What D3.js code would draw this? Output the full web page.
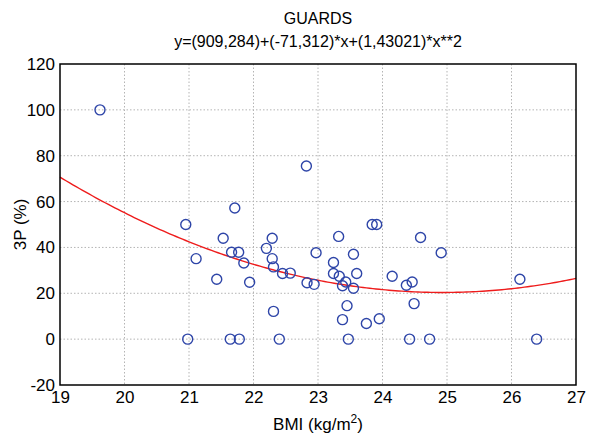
<!DOCTYPE html>
<html>
<head>
<meta charset="utf-8">
<script src="https://cdn.jsdelivr.net/npm/d3@7"></script>
<style>
  body { margin: 0; background: #fff; }
  text { font-family: "Liberation Sans", Arial, sans-serif; fill: #000; }
</style>
</head>
<body>
<svg id="chart"></svg>
<script>
// BMI values of the guards (x)
const bmi = [19.62, 20.95, 21.53, 22.29, 21.71, 21.66, 21.77, 22.20, 21.11, 21.85,
  22.29, 22.31, 22.45, 22.57, 21.43, 21.94, 22.31, 20.98, 21.64, 21.78,
  22.40, 22.82, 23.84, 23.91, 23.32, 22.97, 23.55, 23.24, 23.24, 23.33,
  23.60, 22.83, 22.94, 23.43, 23.38, 23.55, 23.45, 23.38, 23.75, 23.95,
  23.47, 24.15, 24.59, 24.91, 24.46, 24.37, 24.49, 24.42, 24.73, 26.13, 26.39]
// 3-point percentage (y)
const threeP = [100, 50, 44, 44, 57.2, 37.9, 37.9, 39.6, 35.1, 33.2,
  35.1, 31.5, 28.6, 28.8, 26.1, 24.8, 12.1, 0, 0, 0,
  0, 75.5, 50, 50, 44.8, 37.7, 37.0, 33.4, 28.6, 27.4,
  28.6, 24.6, 23.9, 24.9, 23.3, 22.2, 14.6, 8.5, 6.8, 8.9,
  0, 27.4, 44.3, 37.7, 24.9, 23.5, 15.5, 0, 0, 26.1, 0]

// quadratic fit coefficients, as printed in the subtitle
const fitCoef = [909.284, -71.312, 1.43021]

const xTicks = [19, 20, 21, 22, 23, 24, 25, 26, 27]
const yTicks = [-20, 0, 20, 40, 60, 80, 100, 120]

const W = 590, H = 437
const plotL = 60, plotR = 576, plotT = 64, plotB = 385

const svg = d3.select("#chart").attr("width", W).attr("height", H)

const x = d3.scaleLinear().domain([19, 27]).range([plotL, plotR])
const y = d3.scaleLinear().domain([-20, 120]).range([plotB, plotT])

// gridlines (dotted grey)
svg.append("g").selectAll("line")
  .data(xTicks.slice(1, -1))
  .enter().append("line")
  .attr("x1", d => x(d)).attr("x2", d => x(d))
  .attr("y1", plotT).attr("y2", plotB)
  .attr("stroke", "#b4b4b4").attr("stroke-width", 1)
  .attr("stroke-dasharray", "1.5,2")

svg.append("g").selectAll("line")
  .data(yTicks.slice(1, -1))
  .enter().append("line")
  .attr("x1", plotL).attr("x2", plotR)
  .attr("y1", d => y(d)).attr("y2", d => y(d))
  .attr("stroke", "#b4b4b4").attr("stroke-width", 1)
  .attr("stroke-dasharray", "1.5,2")

// axes (labels only, no outer ticks)
const fmt = d => String(d)
const xAxis = svg.append("g")
  .attr("transform", "translate(0," + plotB + ")")
  .call(d3.axisBottom(x).tickValues(xTicks).tickFormat(fmt).tickSize(0).tickPadding(6))
xAxis.select(".domain").remove()
xAxis.selectAll("text").style("font-size", "17px")

const yAxis = svg.append("g")
  .attr("transform", "translate(" + plotL + ",0)")
  .call(d3.axisLeft(y).tickValues(yTicks).tickFormat(fmt).tickSize(0).tickPadding(5))
yAxis.select(".domain").remove()
yAxis.selectAll("text").style("font-size", "17px")

// fitted curve
const fit = v => fitCoef[0] + fitCoef[1] * v + fitCoef[2] * v * v
const line = d3.line().x(d => x(d)).y(d => y(fit(d)))
svg.append("path")
  .datum(d3.range(19, 27.001, 0.05))
  .attr("d", line)
  .attr("fill", "none")
  .attr("stroke", "#ee1c1c")
  .attr("stroke-width", 1.4)

// points
svg.append("g").selectAll("circle")
  .data(bmi.map((b, i) => [b, threeP[i]]))
  .enter().append("circle")
  .attr("cx", d => x(d[0]))
  .attr("cy", d => y(d[1]))
  .attr("r", 5)
  .attr("fill", "none")
  .attr("stroke", "#2e45a8")
  .attr("stroke-width", 1.4)

// frame
svg.append("rect")
  .attr("x", plotL).attr("y", plotT)
  .attr("width", plotR - plotL).attr("height", plotB - plotT)
  .attr("fill", "none").attr("stroke", "#000").attr("stroke-width", 1.5)

// titles
svg.append("text")
  .attr("x", (plotL + plotR) / 2).attr("y", 24)
  .attr("text-anchor", "middle").style("font-size", "16px")
  .text("GUARDS")
svg.append("text")
  .attr("x", (plotL + plotR) / 2).attr("y", 47)
  .attr("text-anchor", "middle").style("font-size", "16px")
  .text("y=(909,284)+(-71,312)*x+(1,43021)*x**2")

const xl = svg.append("text")
  .attr("x", (plotL + plotR) / 2).attr("y", 430)
  .attr("text-anchor", "middle").style("font-size", "17px")
xl.append("tspan").text("BMI (kg/m")
xl.append("tspan").attr("dy", -7).style("font-size", "12px").text("2")
xl.append("tspan").attr("dy", 7).text(")")

svg.append("text")
  .attr("transform", "translate(26," + ((plotT + plotB) / 2) + ") rotate(-90)")
  .attr("text-anchor", "middle").style("font-size", "17px")
  .text("3P (%)")
</script>
</body>
</html>
